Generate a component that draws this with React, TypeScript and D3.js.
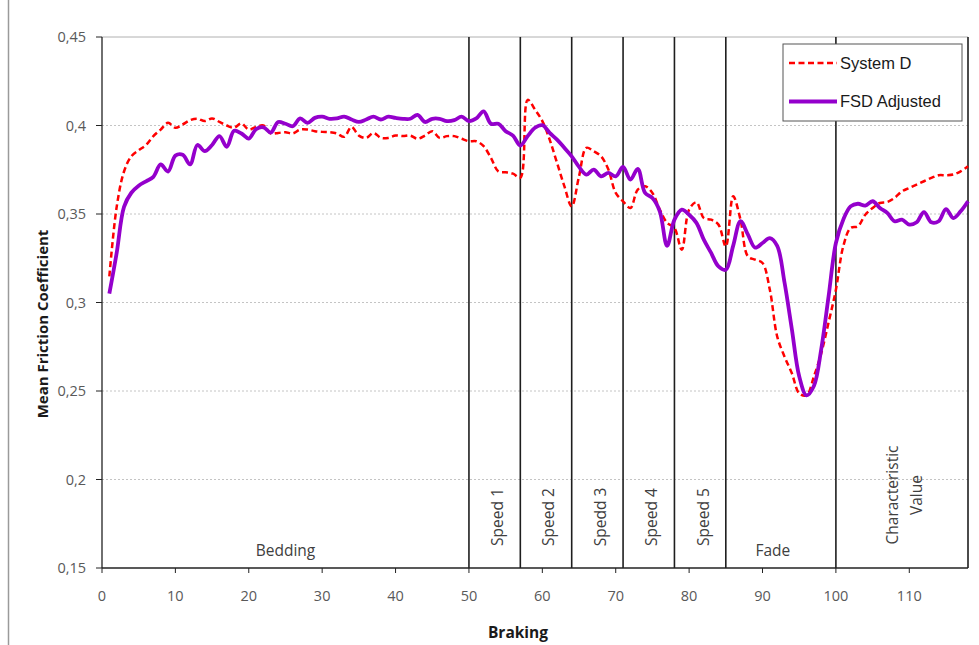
import { useMemo } from "react";
import * as d3 from "d3";

const width = 979;
const height = 645;
const margin = { top: 37, right: 11, bottom: 77, left: 102 };

// Mean friction coefficient per braking (braking 1..118)
const systemD = [
  0.3147, 0.354, 0.374, 0.3826, 0.386, 0.389, 0.394, 0.3977, 0.4015, 0.3987,
  0.4006, 0.403, 0.4038, 0.4025, 0.404, 0.402, 0.4, 0.3987, 0.4012, 0.3977,
  0.3992, 0.4, 0.3955, 0.3958, 0.3962, 0.3955, 0.3977, 0.3977, 0.3968, 0.3964,
  0.3962, 0.3955, 0.3936, 0.3992, 0.3943, 0.393, 0.3958, 0.393, 0.393, 0.3943,
  0.394, 0.3943, 0.3925, 0.3943, 0.3968, 0.393, 0.394, 0.394, 0.3925, 0.3911,
  0.3911, 0.3883, 0.3817, 0.3741, 0.3736, 0.3728, 0.3705, 0.4145, 0.409, 0.4025,
  0.392, 0.3789, 0.3657, 0.3543, 0.3713, 0.3874, 0.3855, 0.3826, 0.3751, 0.3619,
  0.3572, 0.3534, 0.3638, 0.3657, 0.3619, 0.3525, 0.345, 0.3421, 0.3298, 0.3525,
  0.3566, 0.3477, 0.3468, 0.344, 0.3317, 0.36, 0.3468, 0.3261, 0.3242, 0.3223,
  0.3072, 0.2808, 0.2694, 0.26, 0.2487, 0.2475, 0.2581, 0.2713, 0.2887, 0.3072,
  0.3317, 0.3421, 0.343, 0.3496, 0.3534, 0.3562, 0.3568, 0.3591, 0.3628, 0.3647,
  0.3666, 0.3685, 0.3704, 0.3719, 0.3719, 0.3723, 0.3741, 0.377,
];

const fsdAdjusted = [
  0.305, 0.328, 0.354, 0.362, 0.366, 0.3685, 0.371, 0.378, 0.374, 0.383,
  0.3835, 0.378, 0.389, 0.3855, 0.389, 0.394, 0.388, 0.397, 0.3955, 0.3926,
  0.398, 0.399, 0.396, 0.402, 0.401, 0.3996, 0.404, 0.4015, 0.4043, 0.405,
  0.4038, 0.404, 0.405, 0.4034, 0.402, 0.4034, 0.405, 0.4034, 0.405, 0.4043,
  0.4038, 0.4038, 0.406, 0.402, 0.4038, 0.4038, 0.4025, 0.403, 0.405, 0.4025,
  0.404, 0.408, 0.401, 0.401, 0.3968, 0.3943, 0.3887, 0.394, 0.3987, 0.4002,
  0.3958, 0.392, 0.3874, 0.3826, 0.3766, 0.3723, 0.3751, 0.3713, 0.3732, 0.3713,
  0.3766, 0.3694, 0.3755, 0.3619, 0.359, 0.3515, 0.332, 0.3468, 0.3525, 0.3496,
  0.345, 0.3355, 0.328, 0.3204, 0.3185, 0.332, 0.346, 0.3385, 0.331, 0.3336,
  0.3364, 0.332, 0.3113, 0.2849, 0.2583, 0.2475, 0.2528, 0.2736, 0.3034, 0.3336,
  0.3468, 0.3543, 0.3558, 0.3547, 0.3572, 0.3534, 0.3506, 0.3459, 0.3468, 0.344,
  0.3453, 0.3511, 0.3453, 0.3459, 0.3528, 0.3477, 0.3515, 0.3572,
];

const yTicks = [0.15, 0.2, 0.25, 0.3, 0.35, 0.4, 0.45];
const xTicks = [0, 10, 20, 30, 40, 50, 60, 70, 80, 90, 100, 110];

// test phase boundaries (braking number)
const phaseBounds = [50, 57, 64, 71, 78, 85, 100, 118];
const phaseLabels = [
  { from: 0, to: 50, lines: ["Bedding"], rotate: false },
  { from: 50, to: 57, lines: ["Speed 1"], rotate: true },
  { from: 57, to: 64, lines: ["Speed 2"], rotate: true },
  { from: 64, to: 71, lines: ["Spedd 3"], rotate: true },
  { from: 71, to: 78, lines: ["Speed 4"], rotate: true },
  { from: 78, to: 85, lines: ["Speed 5"], rotate: true },
  { from: 85, to: 100, lines: ["Fade"], rotate: false },
  { from: 100, to: 118, lines: ["Characteristic", "Value"], rotate: true },
];

const series = [
  { name: "System D", values: systemD, color: "#ff0000", width: 2.5, dash: "6,3.5" },
  { name: "FSD Adjusted", values: fsdAdjusted, color: "#9400cc", width: 3.8, dash: undefined },
];

if (typeof document !== "undefined") document.body.style.margin = "0";

const fmt = (v: number) => d3.format(".2~f")(v).replace(".", ",");

const FrictionChart = () => {
  const innerW = width - margin.left - margin.right;
  const innerH = height - margin.top - margin.bottom;

  const x = useMemo(() => d3.scaleLinear().domain([0, 118]).range([margin.left, margin.left + innerW]), [innerW]);
  const y = useMemo(() => d3.scaleLinear().domain([0.15, 0.45]).range([margin.top + innerH, margin.top]), [innerH]);

  const line = d3
    .line<number>()
    .x((_, i) => x(i + 1))
    .y((d) => y(d))
    .curve(d3.curveCatmullRom.alpha(0.5));

  const bottom = y(0.15);
  const top = y(0.45);
  const labelFont = "'Open Sans', sans-serif";

  return (
    <svg width={width} height={height} style={{ display: "block", background: "#fff" }}>
      <line x1={8.5} x2={8.5} y1={0} y2={height} stroke="#9a9a9a" strokeWidth={1.5} />

      {/* grid */}
      {yTicks.slice(1, -1).map((t) => (
        <line key={t} x1={x(0)} x2={x(118)} y1={y(t)} y2={y(t)} stroke="#c4c4c4" strokeWidth={1} strokeDasharray="2,2" />
      ))}
      <line x1={x(0)} x2={x(118)} y1={top} y2={top} stroke="#b0b0b0" strokeWidth={1} />

      {/* phase separators */}
      {phaseBounds.map((b) => (
        <line key={b} x1={x(b)} x2={x(b)} y1={top} y2={bottom} stroke="#1e1e1e" strokeWidth={1.6} />
      ))}

      {/* phase labels */}
      {phaseLabels.map((p) => {
        const cx = x((p.from + p.to) / 2);
        if (!p.rotate) {
          const cxx = p.lines[0] === "Fade" ? cx - 8 : cx;
          return (
            <text key={p.lines[0]} x={cxx} y={556} textAnchor="middle" fontFamily={labelFont} fontSize={15.5} fill="#404040">
              {p.lines[0]}
            </text>
          );
        }
        const cy = p.lines.length > 1 ? 495 : 517;
        const shift = p.lines.length > 1 ? -9 : 3;
        return (
          <text
            key={p.lines[0]}
            transform={`translate(${cx + shift},${cy}) rotate(-90)`}
            textAnchor="middle"
            fontFamily={labelFont}
            fontSize={15.5}
            fill="#404040"
          >
            {p.lines.map((l, i) => (
              <tspan key={l} x={0} dy={i === 0 ? "0.35em" : "1.5em"}>
                {l}
              </tspan>
            ))}
          </text>
        );
      })}

      {/* series */}
      {series.map((s) => (
        <path
          key={s.name}
          d={line(s.values) ?? ""}
          fill="none"
          stroke={s.color}
          strokeWidth={s.width}
          strokeDasharray={s.dash}
          strokeLinejoin="round"
        />
      ))}

      {/* axes */}
      <line x1={x(0)} x2={x(0)} y1={top} y2={bottom} stroke="#222" strokeWidth={1.3} />
      <line x1={x(0)} x2={x(118)} y1={bottom} y2={bottom} stroke="#222" strokeWidth={1.3} />
      {yTicks.map((t) => (
        <g key={t}>
          <line x1={x(0) - 6} x2={x(0)} y1={y(t)} y2={y(t)} stroke="#222" strokeWidth={1} />
          <text x={x(0) - 16} y={y(t)} dy="0.35em" textAnchor="end" fontFamily={labelFont} fontSize={14.5} fill="#595959">
            {fmt(t)}
          </text>
        </g>
      ))}
      {xTicks.map((t) => (
        <g key={t}>
          <line x1={x(t)} x2={x(t)} y1={bottom} y2={bottom + 5} stroke="#222" strokeWidth={1} />
          <text x={x(t)} y={596} dy="0.35em" textAnchor="middle" fontFamily={labelFont} fontSize={14.5} fill="#595959">
            {t}
          </text>
        </g>
      ))}

      <text x={518} y={633} dy="0.35em" textAnchor="middle" fontFamily={labelFont} fontWeight="bold" fontSize={15.5} fill="#1a1a1a">
        Braking
      </text>
      <text
        transform={`translate(43,324) rotate(-90)`}
        textAnchor="middle"
        dy="0.35em"
        fontFamily={labelFont}
        fontWeight="bold"
        fontSize={15}
        fill="#1a1a1a"
      >
        Mean Friction Coefficient
      </text>

      {/* legend */}
      <rect x={783} y={44} width={179} height={77} fill="#fff" stroke="#555" strokeWidth={1} />
      {series.map((s, i) => (
        <g key={s.name} transform={`translate(789,${63 + i * 38.5})`}>
          <line x1={0} x2={48} y1={0} y2={0} stroke={s.color} strokeWidth={s.width} strokeDasharray={s.dash} />
          <text x={51} y={0} dy="0.35em" fontFamily="'Liberation Sans', Arial, sans-serif" fontSize={16.5} fill="#1a1a1a">
            {s.name}
          </text>
        </g>
      ))}
    </svg>
  );
};

export default function App() {
  return <FrictionChart />;
}
